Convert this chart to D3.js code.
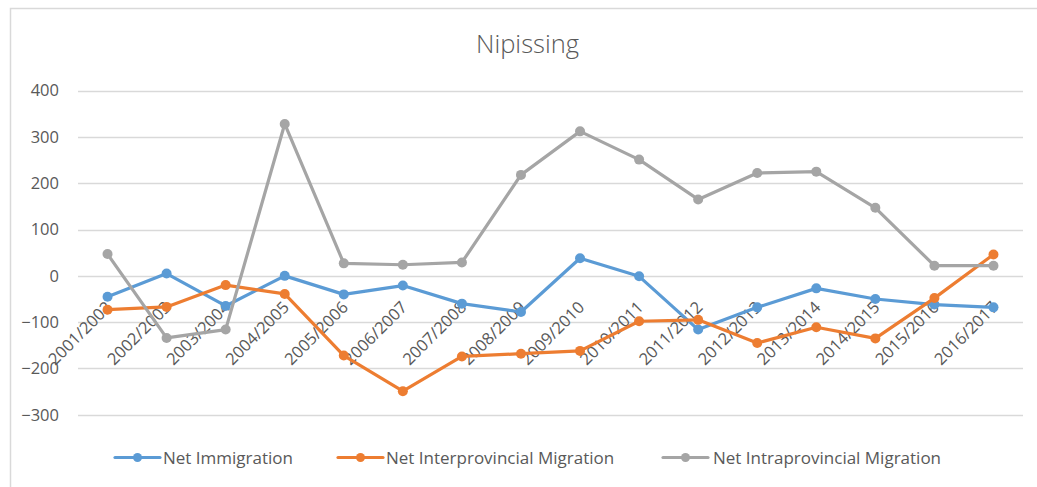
<!DOCTYPE html>
<html>
<head>
<meta charset="utf-8">
<script src="https://cdn.jsdelivr.net/npm/d3@7"></script>
<style>
  html, body { margin: 0; padding: 0; background: #fff; }
  svg { display: block; }
  text { font-family: "Open Sans", "Liberation Sans", sans-serif; fill: #595959; }
</style>
</head>
<body>
<svg id="chart" width="1037" height="487"></svg>
<script>
const categories = ["2001/2002","2002/2003","2003/2004","2004/2005","2005/2006","2006/2007","2007/2008","2008/2009","2009/2010","2010/2011","2011/2012","2012/2013","2013/2014","2014/2015","2015/2016","2016/2017"];
const netImmigration = [-45, 5, -65, 0, -40, -21, -60, -78, 38, -1, -116, -68, -27, -50, -62, -68];
const netInterprovincial = [-73, -67, -20, -39, -172, -249, -174, -168, -162, -98, -95, -145, -111, -135, -48, 46];
const netIntraprovincial = [47, -134, -116, 328, 27, 24, 29, 218, 312, 251, 165, 222, 225, 147, 22, 22];
const yTicks = [400, 300, 200, 100, 0, -100, -200, -300];
const seriesNames = ["Net Immigration", "Net Interprovincial Migration", "Net Intraprovincial Migration"];
const seriesColors = ["#5B9BD5", "#ED7D31", "#A5A5A5"];
const titleText = "Nipissing";

const svg = d3.select("#chart");

// outer chart border
svg.append("rect")
  .attr("x", 10.5).attr("y", 8.5)
  .attr("width", 1100).attr("height", 600)
  .attr("fill", "none").attr("stroke", "#D9D9D9").attr("stroke-width", 1.5);

const plotLeft = 78, plotRight = 1023;
const x = d3.scaleBand().domain(categories).range([plotLeft, plotRight]);
const y = d3.scaleLinear().domain([-300, 400]).range([414.8, 90.6]);
const cx = d => x(d) + x.bandwidth() / 2;

// title
svg.append("text")
  .attr("x", 527.5).attr("y", 53)
  .attr("text-anchor", "middle")
  .style("font-size", "25.5px")
  .style("font-weight", 300)
  .text(titleText);

// gridlines
svg.append("g").selectAll("line").data(yTicks).join("line")
  .attr("x1", plotLeft).attr("x2", plotRight)
  .attr("y1", d => Math.round(y(d)) + 0.5).attr("y2", d => Math.round(y(d)) + 0.5)
  .attr("stroke", "#D9D9D9").attr("stroke-width", 1.5);

// y axis labels
const yAxis = d3.axisLeft(y).tickValues(yTicks).tickSize(0).tickPadding(0);
const gy = svg.append("g").attr("transform", "translate(59,0)").call(yAxis);
gy.select(".domain").remove();
gy.selectAll("text").style("font-size", "16.5px").attr("fill", "#595959")
  .style("font-family", "'Open Sans', 'Liberation Sans', sans-serif");

// x labels (rotated)
svg.append("g").selectAll("text").data(categories).join("text")
  .attr("transform", d => `translate(${cx(d) - 3},${300}) rotate(-45)`)
  .attr("text-anchor", "end")
  .attr("dy", "0.72em")
  .style("font-size", "16.5px")
  .text(d => d);

// series
const allSeries = [netImmigration, netInterprovincial, netIntraprovincial];
const line = d3.line().x((d, i) => cx(categories[i])).y(d => y(d));
allSeries.forEach((vals, si) => {
  const g = svg.append("g");
  g.append("path").datum(vals)
    .attr("d", line)
    .attr("fill", "none")
    .attr("stroke", seriesColors[si])
    .attr("stroke-width", 3.2)
    .attr("stroke-linejoin", "round")
    .attr("stroke-linecap", "round");
  g.selectAll("circle").data(vals).join("circle")
    .attr("cx", (d, i) => cx(categories[i]))
    .attr("cy", d => y(d))
    .attr("r", 5)
    .attr("fill", seriesColors[si]);
});

// legend
const legendItems = [
  {x0: 115, x1: 160, tx: 163},
  {x0: 338, x1: 383, tx: 386},
  {x0: 663, x1: 708, tx: 713}
];
const ly = 457.5;
const lg = svg.append("g");
seriesNames.forEach((name, i) => {
  const it = legendItems[i];
  lg.append("line").attr("x1", it.x0).attr("x2", it.x1).attr("y1", ly).attr("y2", ly)
    .attr("stroke", seriesColors[i]).attr("stroke-width", 3.2).attr("stroke-linecap", "round");
  lg.append("circle").attr("cx", (it.x0 + it.x1) / 2).attr("cy", ly).attr("r", 4.5)
    .attr("fill", seriesColors[i]);
  lg.append("text").attr("x", it.tx).attr("y", ly).attr("dy", "0.36em")
    .style("font-size", "17px").text(name);
});
</script>
</body>
</html>
